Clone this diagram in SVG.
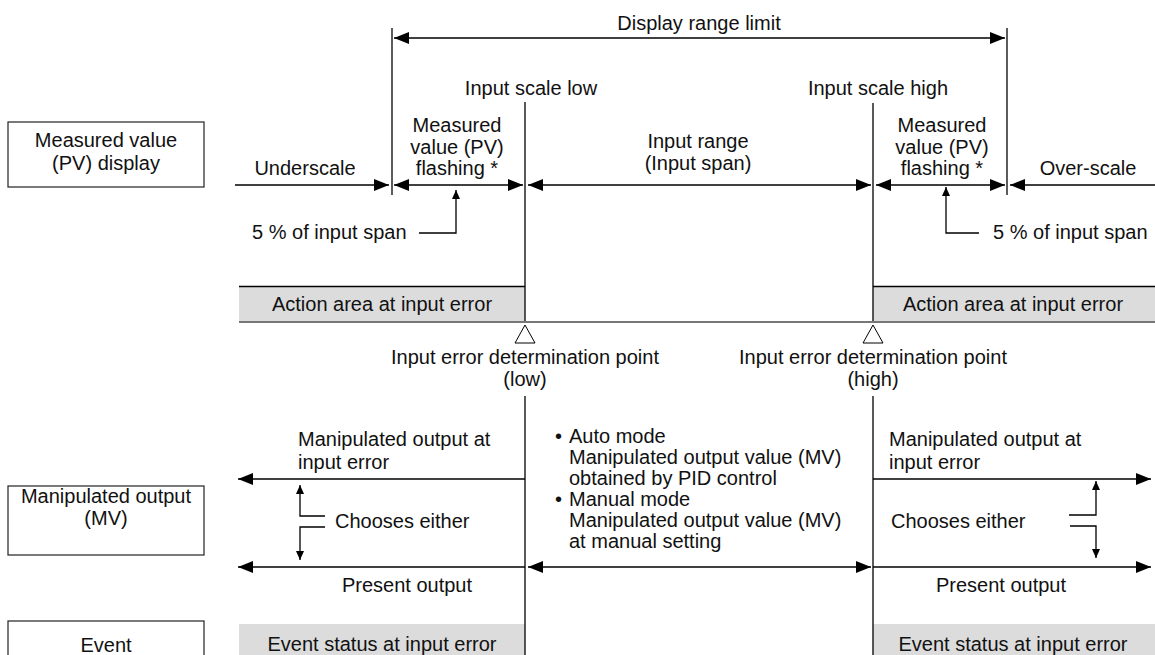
<svg xmlns="http://www.w3.org/2000/svg" width="1155" height="655" viewBox="0 0 1155 655">
<style>
text{font-family:"Liberation Sans",Arial,sans-serif;font-size:20px;fill:#111}
.c{text-anchor:middle}
.ln{stroke:#000;stroke-width:1.3;fill:none}
.lim{stroke:#333;stroke-width:1.6;fill:none}
.box{fill:#fff;stroke:#222;stroke-width:1.2}
.gray{fill:#dcdcdc;stroke:none}
.a2{marker-start:url(#ah);marker-end:url(#ah)}
.a1{marker-end:url(#ah)}
.s1{marker-end:url(#sa)}
</style>
<defs>
<marker id="ah" viewBox="0 0 15 12" refX="15" refY="6" markerWidth="15" markerHeight="12" markerUnits="userSpaceOnUse" orient="auto-start-reverse"><path d="M0,0 L15,6 L0,12 z" fill="#000"/></marker>
<marker id="sa" viewBox="0 0 9 8" refX="9" refY="4" markerWidth="9" markerHeight="8" markerUnits="userSpaceOnUse" orient="auto"><path d="M0,0 L9,4 L0,8 z" fill="#000"/></marker>
</defs>
<rect width="1155" height="655" fill="#fff"/>

<g id="pv-label"><rect class="box" x="8" y="122" width="196" height="65"/><text class="c" x="106" y="147">Measured value</text><text class="c" x="106" y="170">(PV) display</text></g>
<g id="mv-label"><rect class="box" x="8" y="486" width="196" height="69"/><text class="c" x="106" y="503">Manipulated output</text><text class="c" x="106" y="525">(MV)</text></g>
<g id="event-label"><rect class="box" x="8" y="621" width="196" height="50"/><text class="c" x="106" y="652">Event</text></g>

<g id="display-range"><text class="c" x="699" y="30">Display range limit</text></g>
<g id="scale-low"><text class="c" x="531" y="95">Input scale low</text></g>
<g id="scale-high"><text class="c" x="878" y="95">Input scale high</text></g>
<g id="underscale"><text class="c" x="305" y="175">Underscale</text></g>
<g id="flash-low"><text class="c" x="457" y="132">Measured</text><text class="c" x="457" y="154">value (PV)</text><text class="c" x="457" y="175">flashing *</text></g>
<g id="input-range"><text class="c" x="698" y="148">Input range</text><text class="c" x="698" y="170">(Input span)</text></g>
<g id="flash-high"><text class="c" x="942" y="132">Measured</text><text class="c" x="942" y="154">value (PV)</text><text class="c" x="942" y="175">flashing *</text></g>
<g id="overscale"><text class="c" x="1088" y="175">Over-scale</text></g>
<g id="span-low"><text x="252" y="239">5 % of input span</text></g>
<g id="span-high"><text x="993" y="239">5 % of input span</text></g>

<g id="action-low"><rect class="gray" x="239" y="286" width="286" height="36"/><line class="ln" x1="239" y1="286.5" x2="525" y2="286.5" stroke-width="1"/><text class="c" x="382" y="311">Action area at input error</text></g>
<g id="action-high"><rect class="gray" x="873" y="286" width="282" height="36"/><line class="ln" x1="873" y1="286.5" x2="1155" y2="286.5" stroke-width="1"/><text class="c" x="1013" y="311">Action area at input error</text></g>

<g id="err-low"><polygon points="525,325 515,343 535,343" fill="#fff" stroke="#000" stroke-width="1"/><text class="c" x="525" y="364">Input error determination point</text><text class="c" x="525" y="386">(low)</text></g>
<g id="err-high"><polygon points="873,325 863,343 883,343" fill="#fff" stroke="#000" stroke-width="1"/><text class="c" x="873" y="364">Input error determination point</text><text class="c" x="873" y="386">(high)</text></g>

<g id="mv-err-low"><text x="298" y="446">Manipulated output at</text><text x="298" y="469">input error</text></g>
<g id="mv-err-high"><text x="889" y="446">Manipulated output at</text><text x="889" y="469">input error</text></g>
<g id="choose-low"><text x="335" y="528">Chooses either</text></g>
<g id="choose-high"><text x="891" y="528">Chooses either</text></g>
<g id="present-low"><text class="c" x="407" y="592">Present output</text></g>
<g id="present-high"><text class="c" x="1001" y="592">Present output</text></g>
<g id="modes">
<text x="555" y="443">•</text><text x="569" y="443">Auto mode</text>
<text x="569" y="464">Manipulated output value (MV)</text>
<text x="569" y="485">obtained by PID control</text>
<text x="555" y="506">•</text><text x="569" y="506">Manual mode</text>
<text x="569" y="527">Manipulated output value (MV)</text>
<text x="569" y="548">at manual setting</text>
</g>

<g id="event-low"><rect class="gray" x="239" y="624" width="286" height="40"/><text class="c" x="382" y="651">Event status at input error</text></g>
<g id="event-high"><rect class="gray" x="873" y="624" width="282" height="40"/><text class="c" x="1013" y="651">Event status at input error</text></g>

<g id="connectors">
<line class="lim" x1="392" y1="28" x2="392" y2="195"/>
<line class="lim" x1="1007" y1="28" x2="1007" y2="195"/>
<line class="ln" x1="525" y1="102" x2="525" y2="322"/>
<line class="ln" x1="873" y1="103" x2="873" y2="322"/>
<line x1="239" y1="322" x2="1155" y2="322" stroke="#777" stroke-width="2"/>
<line class="ln" x1="525" y1="396" x2="525" y2="655"/>
<line class="ln" x1="873" y1="396" x2="873" y2="655"/>

<path class="ln a2" d="M394,38 H1005"/>
<path class="ln a1" d="M235,185 H389"/>
<path class="ln a2" d="M394,185 H523"/>
<path class="ln a2" d="M528,185 H871"/>
<path class="ln a2" d="M876,185 H1005"/>
<path class="ln a1" d="M1155,185 H1010"/>

<path class="ln s1" d="M419,233 H456 V190"/>
<path class="ln s1" d="M979,233 H946 V187"/>

<path class="ln a1" d="M525,479 H238"/>
<path class="ln a1" d="M873,479 H1151"/>
<path class="ln a1" d="M525,567 H238"/>
<path class="ln a2" d="M528,567 H871"/>
<path class="ln a1" d="M873,567 H1151"/>

<path class="ln s1" d="M325,516 H300 V485"/>
<path class="ln s1" d="M325,527 H300 V560"/>
<path class="ln s1" d="M1069,515 H1096 V481"/>
<path class="ln s1" d="M1070,526 H1096 V558"/>
</g>
</svg>
